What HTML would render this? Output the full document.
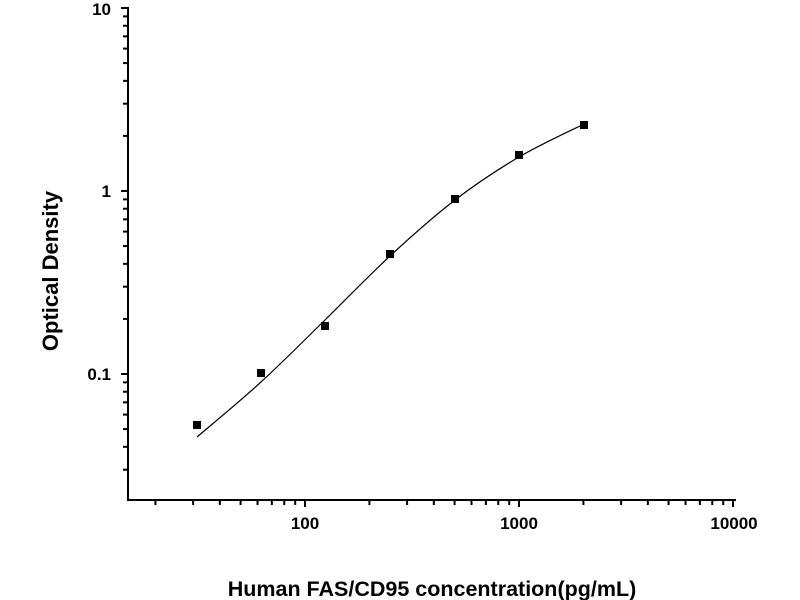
<!DOCTYPE html><html><head><style>body{margin:0;background:#fff}svg{display:block}text{font-family:"Liberation Sans",Arial,sans-serif;font-weight:bold;fill:#000}</style></head><body>
<svg id="s" width="800" height="600" xmlns="http://www.w3.org/2000/svg">
<g stroke="#000" stroke-width="2" fill="none" id="ax">
<line x1="128" y1="7" x2="128" y2="501"/><line x1="127" y1="500" x2="736" y2="500"/>
</g>
<text x="111" y="15" text-anchor="end" font-size="17">10</text>
<text x="111" y="197" text-anchor="end" font-size="17">1</text>
<text x="111" y="380" text-anchor="end" font-size="17">0.1</text>
<text x="305" y="529" text-anchor="middle" font-size="17">100</text>
<text x="519" y="529" text-anchor="middle" font-size="17">1000</text>
<text x="734" y="529" text-anchor="middle" font-size="17">10000</text>
<text x="432" y="596" text-anchor="middle" font-size="21.5">Human FAS/CD95 concentration(pg/mL)</text>
<text transform="translate(58,271) rotate(-90)" text-anchor="middle" font-size="22">Optical Density</text>
</svg>
<script>
var s=document.getElementById('s'),ax=document.getElementById('ax'),NS='http://www.w3.org/2000/svg';
function X(v){return 305+214*(Math.log10(v)-2)}function Y(v){return 191-183*Math.log10(v)}
function L(a,b,c,d,p){var l=document.createElementNS(NS,'line');l.setAttribute('x1',a);l.setAttribute('y1',b);l.setAttribute('x2',c);l.setAttribute('y2',d);(p||ax).appendChild(l);}
[10,100,1000,10000].forEach(function(d){for(var k=1;k<10;k++){var v=d*k,x=X(v);if(x<130||x>737)continue;L(x,500,x,k==1?507:505);}});
[0.01,0.1,1].forEach(function(d){for(var k=1;k<=10;k++){var v=d*k,y=Y(v);if(y>499||y<7)continue;L(128,y,(k==1||k==10)?121:123,y);}});
var pts=[[197,437],[261,382],[325,320],[390,256],[455,200],[519,157],[584,124]];
var d='M'+pts[0];for(var i=0;i<pts.length-1;i++){var p0=pts[i-1]||pts[i],p1=pts[i],p2=pts[i+1],p3=pts[i+2]||p2;
d+=' C'+(p1[0]+(p2[0]-p0[0])/6)+','+(p1[1]+(p2[1]-p0[1])/6)+' '+(p2[0]-(p3[0]-p1[0])/6)+','+(p2[1]-(p3[1]-p1[1])/6)+' '+p2;}
var pa=document.createElementNS(NS,'path');pa.setAttribute('d',d);pa.setAttribute('fill','none');pa.setAttribute('stroke','#000');pa.setAttribute('stroke-width','1.2');s.appendChild(pa);
[[197,425],[261,373],[325,326],[390,254],[455,199],[519,155],[584,125]].forEach(function(p){var r=document.createElementNS(NS,'rect');r.setAttribute('x',p[0]-4);r.setAttribute('y',p[1]-4);r.setAttribute('width',8);r.setAttribute('height',8);s.appendChild(r);});
</script></body></html>
